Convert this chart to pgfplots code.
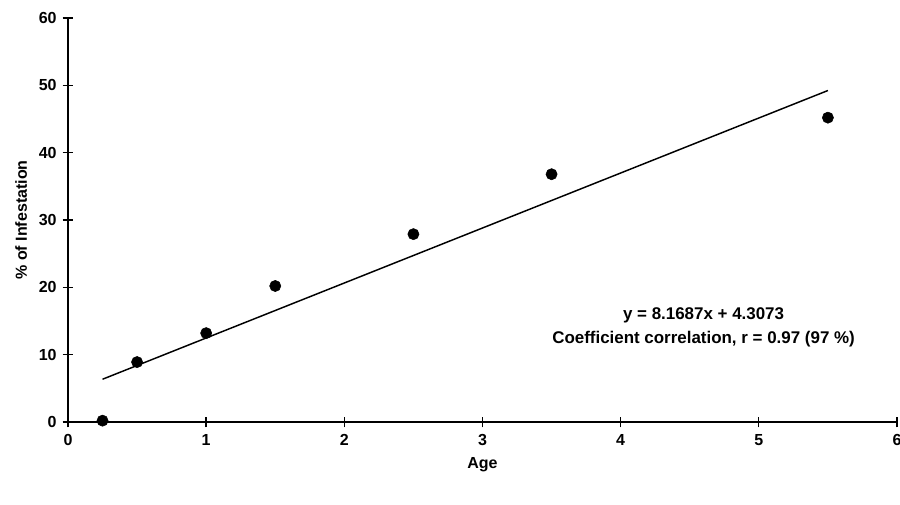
\documentclass[border=0pt]{standalone}
\usepackage{pgfplots}
\pgfplotsset{compat=1.18}
\usepackage{fontspec}
\setmainfont{Liberation Sans}
\begin{document}
\begin{tikzpicture}[font=\bfseries]
\useasboundingbox (-51pt,-62.25pt) rectangle (624pt,316.5pt);
\begin{axis}[
  at={(0,0)}, anchor=south west,
  scale only axis,
  width=621.75pt, height=303pt,
  xmin=0, xmax=6, ymin=0, ymax=60,
  axis lines=left,
  axis line style={-, line width=1.3pt},
  xtick={0,1,2,3,4,5,6},
  ytick={0,10,20,30,40,50,60},
  tick align=center,
  major tick length=8pt,
  tick style={line width=1pt, black},
  /pgf/number format/assume math mode=true,
  ticklabel style={font=\bfseries\large},
  xticklabel style={yshift=-2pt},
  yticklabel style={xshift=-1pt},
  xlabel={Age},
  ylabel={\% of Infestation},
  xlabel style={font=\bfseries\large, yshift=-2pt},
  ylabel style={font=\bfseries\large, yshift=2pt},
  clip=false,
]
\addplot[only marks, mark=*, mark size=4.2pt, black] coordinates {
  (0.25,0.2) (0.5,8.9) (1,13.2) (1.5,20.2) (2.5,27.9) (3.5,36.8) (5.5,45.2)
};
\addplot[black, line width=1.1pt] coordinates {
  (0.25,6.35) (5.5,49.23)
};
\node[align=center, font=\bfseries\fontsize{12.7}{18}\selectfont, inner sep=0pt] at (axis cs:4.6,14.1)
  {y = 8.1687x + 4.3073\\Coefficient correlation, r = 0.97 (97 \%)};
\end{axis}
\end{tikzpicture}
\end{document}
